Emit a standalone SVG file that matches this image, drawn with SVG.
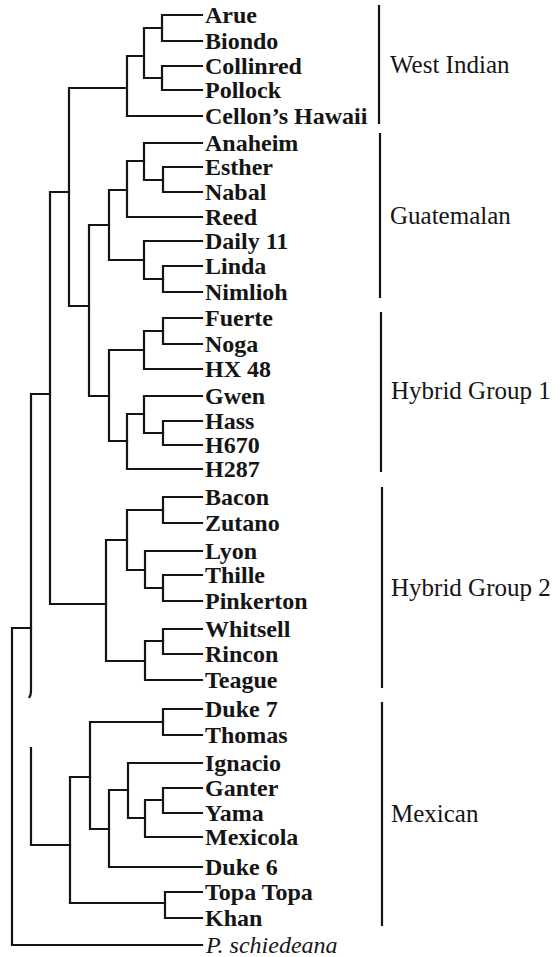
<svg xmlns="http://www.w3.org/2000/svg" width="560" height="957" viewBox="0 0 560 957">
<style>
.bg{fill:#ffffff}
.ln{fill:none;stroke:#151515;stroke-width:2.2;stroke-linecap:square;stroke-linejoin:miter}
.bar{fill:none;stroke:#151515;stroke-width:2.2}
.leaf{font-family:"Liberation Serif","Times New Roman",serif;font-size:24px;font-weight:bold;fill:#151515}
.out{font-family:"Liberation Serif","Times New Roman",serif;font-size:24px;font-style:italic;fill:#151515}
.grp{font-family:"Liberation Serif","Times New Roman",serif;font-size:25px;fill:#151515}
</style>
<rect class="bg" x="0" y="0" width="560" height="957"/>
<g id="connectors">
<!-- West Indian -->
<path class="ln" d="M202 15 H162 V41 H202"/>
<path class="ln" d="M202 66 H162 V90 H202"/>
<path class="ln" d="M162 28 H144 V78 H162"/>
<path class="ln" d="M144 56 H127 V116 H202"/>
<!-- Guatemalan -->
<path class="ln" d="M202 167 H163 V192 H202"/>
<path class="ln" d="M202 143 H144 V180 H163"/>
<path class="ln" d="M144 161 H127 V217 H202"/>
<path class="ln" d="M202 266 H163 V292 H202"/>
<path class="ln" d="M202 241 H144 V279 H163"/>
<path class="ln" d="M127 190 H109 V260 H144"/>
<path class="ln" d="M109 225 H89 V396 H109"/>
<path class="ln" d="M127 88 H69 V306 H89"/>
<!-- Hybrid Group 1 -->
<path class="ln" d="M202 318 H163 V344 H202"/>
<path class="ln" d="M163 331 H144 V369 H202"/>
<path class="ln" d="M202 421 H163 V445 H202"/>
<path class="ln" d="M202 396 H144 V433 H163"/>
<path class="ln" d="M144 414 H127 V469 H202"/>
<path class="ln" d="M144 350 H109 V441 H127"/>
<!-- Hybrid Group 2 -->
<path class="ln" d="M202 497 H163 V523 H202"/>
<path class="ln" d="M202 575 H163 V601 H202"/>
<path class="ln" d="M202 551 H145 V588 H163"/>
<path class="ln" d="M163 510 H127 V570 H145"/>
<path class="ln" d="M202 629 H163 V654 H202"/>
<path class="ln" d="M163 641 H145 V680 H202"/>
<path class="ln" d="M127 540 H106 V661 H145"/>
<path class="ln" d="M69 192 H50 V604 H106"/>
<!-- Mexican -->
<path class="ln" d="M202 709 H163 V735 H202"/>
<path class="ln" d="M202 788 H163 V813 H202"/>
<path class="ln" d="M163 800 H145 V837 H202"/>
<path class="ln" d="M202 763 H128 V818 H145"/>
<path class="ln" d="M128 790 H109 V867 H202"/>
<path class="ln" d="M163 722 H90 V829 H109"/>
<path class="ln" d="M202 892 H165 V918 H202"/>
<path class="ln" d="M90 777 H70 V903 H165"/>
<!-- deep nodes -->
<path class="ln" d="M50 394 H31 V690 Q31 695 29.5 697"/>
<path class="ln" d="M31 748 V845 H70"/>
<path class="ln" d="M31 628 H12 V945 H202"/>
</g>
<g id="leaves">
<g id="arue"><text class="leaf" x="205" y="23">Arue</text></g>
<g id="biondo"><text class="leaf" x="205" y="49">Biondo</text></g>
<g id="collinred"><text class="leaf" x="205" y="74">Collinred</text></g>
<g id="pollock"><text class="leaf" x="205" y="98">Pollock</text></g>
<g id="cellons-hawaii"><text class="leaf" x="205" y="124">Cellon’s Hawaii</text></g>
<g id="anaheim"><text class="leaf" x="205" y="151">Anaheim</text></g>
<g id="esther"><text class="leaf" x="205" y="175">Esther</text></g>
<g id="nabal"><text class="leaf" x="205" y="200">Nabal</text></g>
<g id="reed"><text class="leaf" x="205" y="225">Reed</text></g>
<g id="daily-11"><text class="leaf" x="205" y="249">Daily 11</text></g>
<g id="linda"><text class="leaf" x="205" y="274">Linda</text></g>
<g id="nimlioh"><text class="leaf" x="205" y="300">Nimlioh</text></g>
<g id="fuerte"><text class="leaf" x="205" y="326">Fuerte</text></g>
<g id="noga"><text class="leaf" x="205" y="352">Noga</text></g>
<g id="hx48"><text class="leaf" x="205" y="377">HX 48</text></g>
<g id="gwen"><text class="leaf" x="205" y="404">Gwen</text></g>
<g id="hass"><text class="leaf" x="205" y="429">Hass</text></g>
<g id="h670"><text class="leaf" x="205" y="453">H670</text></g>
<g id="h287"><text class="leaf" x="205" y="477">H287</text></g>
<g id="bacon"><text class="leaf" x="205" y="505">Bacon</text></g>
<g id="zutano"><text class="leaf" x="205" y="531">Zutano</text></g>
<g id="lyon"><text class="leaf" x="205" y="559">Lyon</text></g>
<g id="thille"><text class="leaf" x="205" y="583">Thille</text></g>
<g id="pinkerton"><text class="leaf" x="205" y="609">Pinkerton</text></g>
<g id="whitsell"><text class="leaf" x="205" y="637">Whitsell</text></g>
<g id="rincon"><text class="leaf" x="205" y="662">Rincon</text></g>
<g id="teague"><text class="leaf" x="205" y="688">Teague</text></g>
<g id="duke-7"><text class="leaf" x="205" y="717">Duke 7</text></g>
<g id="thomas"><text class="leaf" x="205" y="743">Thomas</text></g>
<g id="ignacio"><text class="leaf" x="205" y="771">Ignacio</text></g>
<g id="ganter"><text class="leaf" x="205" y="796">Ganter</text></g>
<g id="yama"><text class="leaf" x="205" y="821">Yama</text></g>
<g id="mexicola"><text class="leaf" x="205" y="845">Mexicola</text></g>
<g id="duke-6"><text class="leaf" x="205" y="875">Duke 6</text></g>
<g id="topa-topa"><text class="leaf" x="205" y="900">Topa Topa</text></g>
<g id="khan"><text class="leaf" x="205" y="926">Khan</text></g>
<g id="p-schiedeana"><text class="out" x="206" y="953">P. schiedeana</text></g>
</g>
<g id="groups">
<g id="west-indian"><line class="bar" x1="379" y1="5" x2="379" y2="124"/><text class="grp" x="390" y="73">West Indian</text></g>
<g id="guatemalan"><line class="bar" x1="380" y1="133" x2="380" y2="298"/><text class="grp" x="390" y="224">Guatemalan</text></g>
<g id="hybrid-group-1"><line class="bar" x1="381" y1="312" x2="381" y2="472"/><text class="grp" x="391" y="399">Hybrid Group 1</text></g>
<g id="hybrid-group-2"><line class="bar" x1="382" y1="487" x2="382" y2="688"/><text class="grp" x="391" y="596">Hybrid Group 2</text></g>
<g id="mexican"><line class="bar" x1="382" y1="702" x2="382" y2="926"/><text class="grp" x="391" y="822">Mexican</text></g>
</g>
</svg>
